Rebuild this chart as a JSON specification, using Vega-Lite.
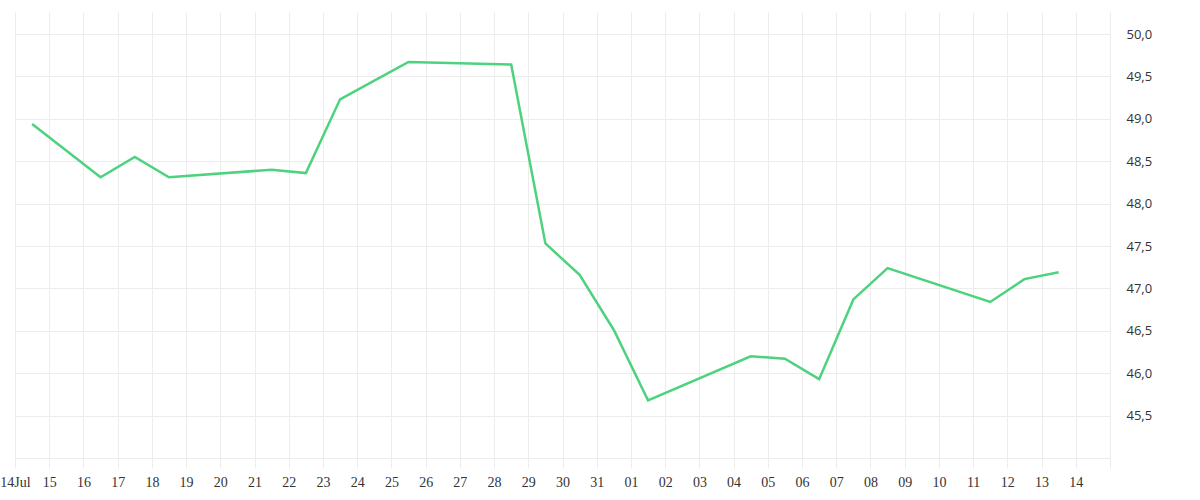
{
  "$schema": "https://vega.github.io/schema/vega-lite/v6.json",
  "width": 1095,
  "height": 446,
  "autosize": {"type": "none"},
  "padding": {"left": 15, "top": 12, "right": 90, "bottom": 42},
  "config": {"view": {"stroke": null}},
  "data": {
    "values": [
      {"date": "2023-07-14T12:00", "value": 48.94},
      {"date": "2023-07-16T12:00", "value": 48.31},
      {"date": "2023-07-17T12:00", "value": 48.55},
      {"date": "2023-07-18T12:00", "value": 48.31},
      {"date": "2023-07-21T12:00", "value": 48.40},
      {"date": "2023-07-22T12:00", "value": 48.36},
      {"date": "2023-07-23T12:00", "value": 49.23},
      {"date": "2023-07-24T12:00", "value": 49.45},
      {"date": "2023-07-25T12:00", "value": 49.67},
      {"date": "2023-07-28T12:00", "value": 49.64},
      {"date": "2023-07-29T12:00", "value": 47.53},
      {"date": "2023-07-30T12:00", "value": 47.16},
      {"date": "2023-07-31T12:00", "value": 46.51},
      {"date": "2023-08-01T12:00", "value": 45.68},
      {"date": "2023-08-04T12:00", "value": 46.20},
      {"date": "2023-08-05T12:00", "value": 46.17},
      {"date": "2023-08-06T12:00", "value": 45.93},
      {"date": "2023-08-07T12:00", "value": 46.87},
      {"date": "2023-08-08T12:00", "value": 47.24},
      {"date": "2023-08-11T12:00", "value": 46.84},
      {"date": "2023-08-12T12:00", "value": 47.11},
      {"date": "2023-08-13T12:00", "value": 47.19}
    ]
  },
  "mark": {"type": "line", "color": "#4dd27e", "strokeWidth": 2.5},
  "encoding": {
    "x": {
      "field": "date",
      "type": "temporal",
      "scale": {
        "domain": [
          {"year": 2023, "month": 7, "date": 14},
          {"year": 2023, "month": 8, "date": 15}
        ],
        "nice": false
      },
      "axis": {
        "title": null,
        "domain": false,
        "tickCount": {"interval": "day", "step": 1},
        "grid": true,
        "gridColor": "#ececec",
        "gridWidth": 1,
        "tickColor": "#ececec",
        "tickSize": 10,
        "labelFont": "Liberation Serif",
        "labelFontSize": 14,
        "labelColor": "#333333",
        "labelPadding": 7,
        "labelOverlap": false,
        "labelBound": false,
        "labelFlush": false,
        "labelExpr": "month(datum.value) == 6 && date(datum.value) == 14 ? '14Jul' : (month(datum.value) == 7 && date(datum.value) == 15 ? '' : timeFormat(datum.value, '%d'))"
      }
    },
    "y": {
      "field": "value",
      "type": "quantitative",
      "scale": {"domain": [45, 50.26], "nice": false, "zero": false},
      "axis": {
        "title": null,
        "orient": "right",
        "domain": false,
        "ticks": false,
        "values": [45, 45.5, 46, 46.5, 47, 47.5, 48, 48.5, 49, 49.5, 50],
        "grid": true,
        "gridColor": "#ececec",
        "labelFont": "Open Sans",
        "labelFontSize": 13,
        "labelColor": "#333333",
        "labelPadding": 16,
        "labelOverlap": false,
        "labelExpr": "datum.value == 45 ? '' : replace(format(datum.value, '.1f'), '.', ',')"
      }
    }
  }
}
